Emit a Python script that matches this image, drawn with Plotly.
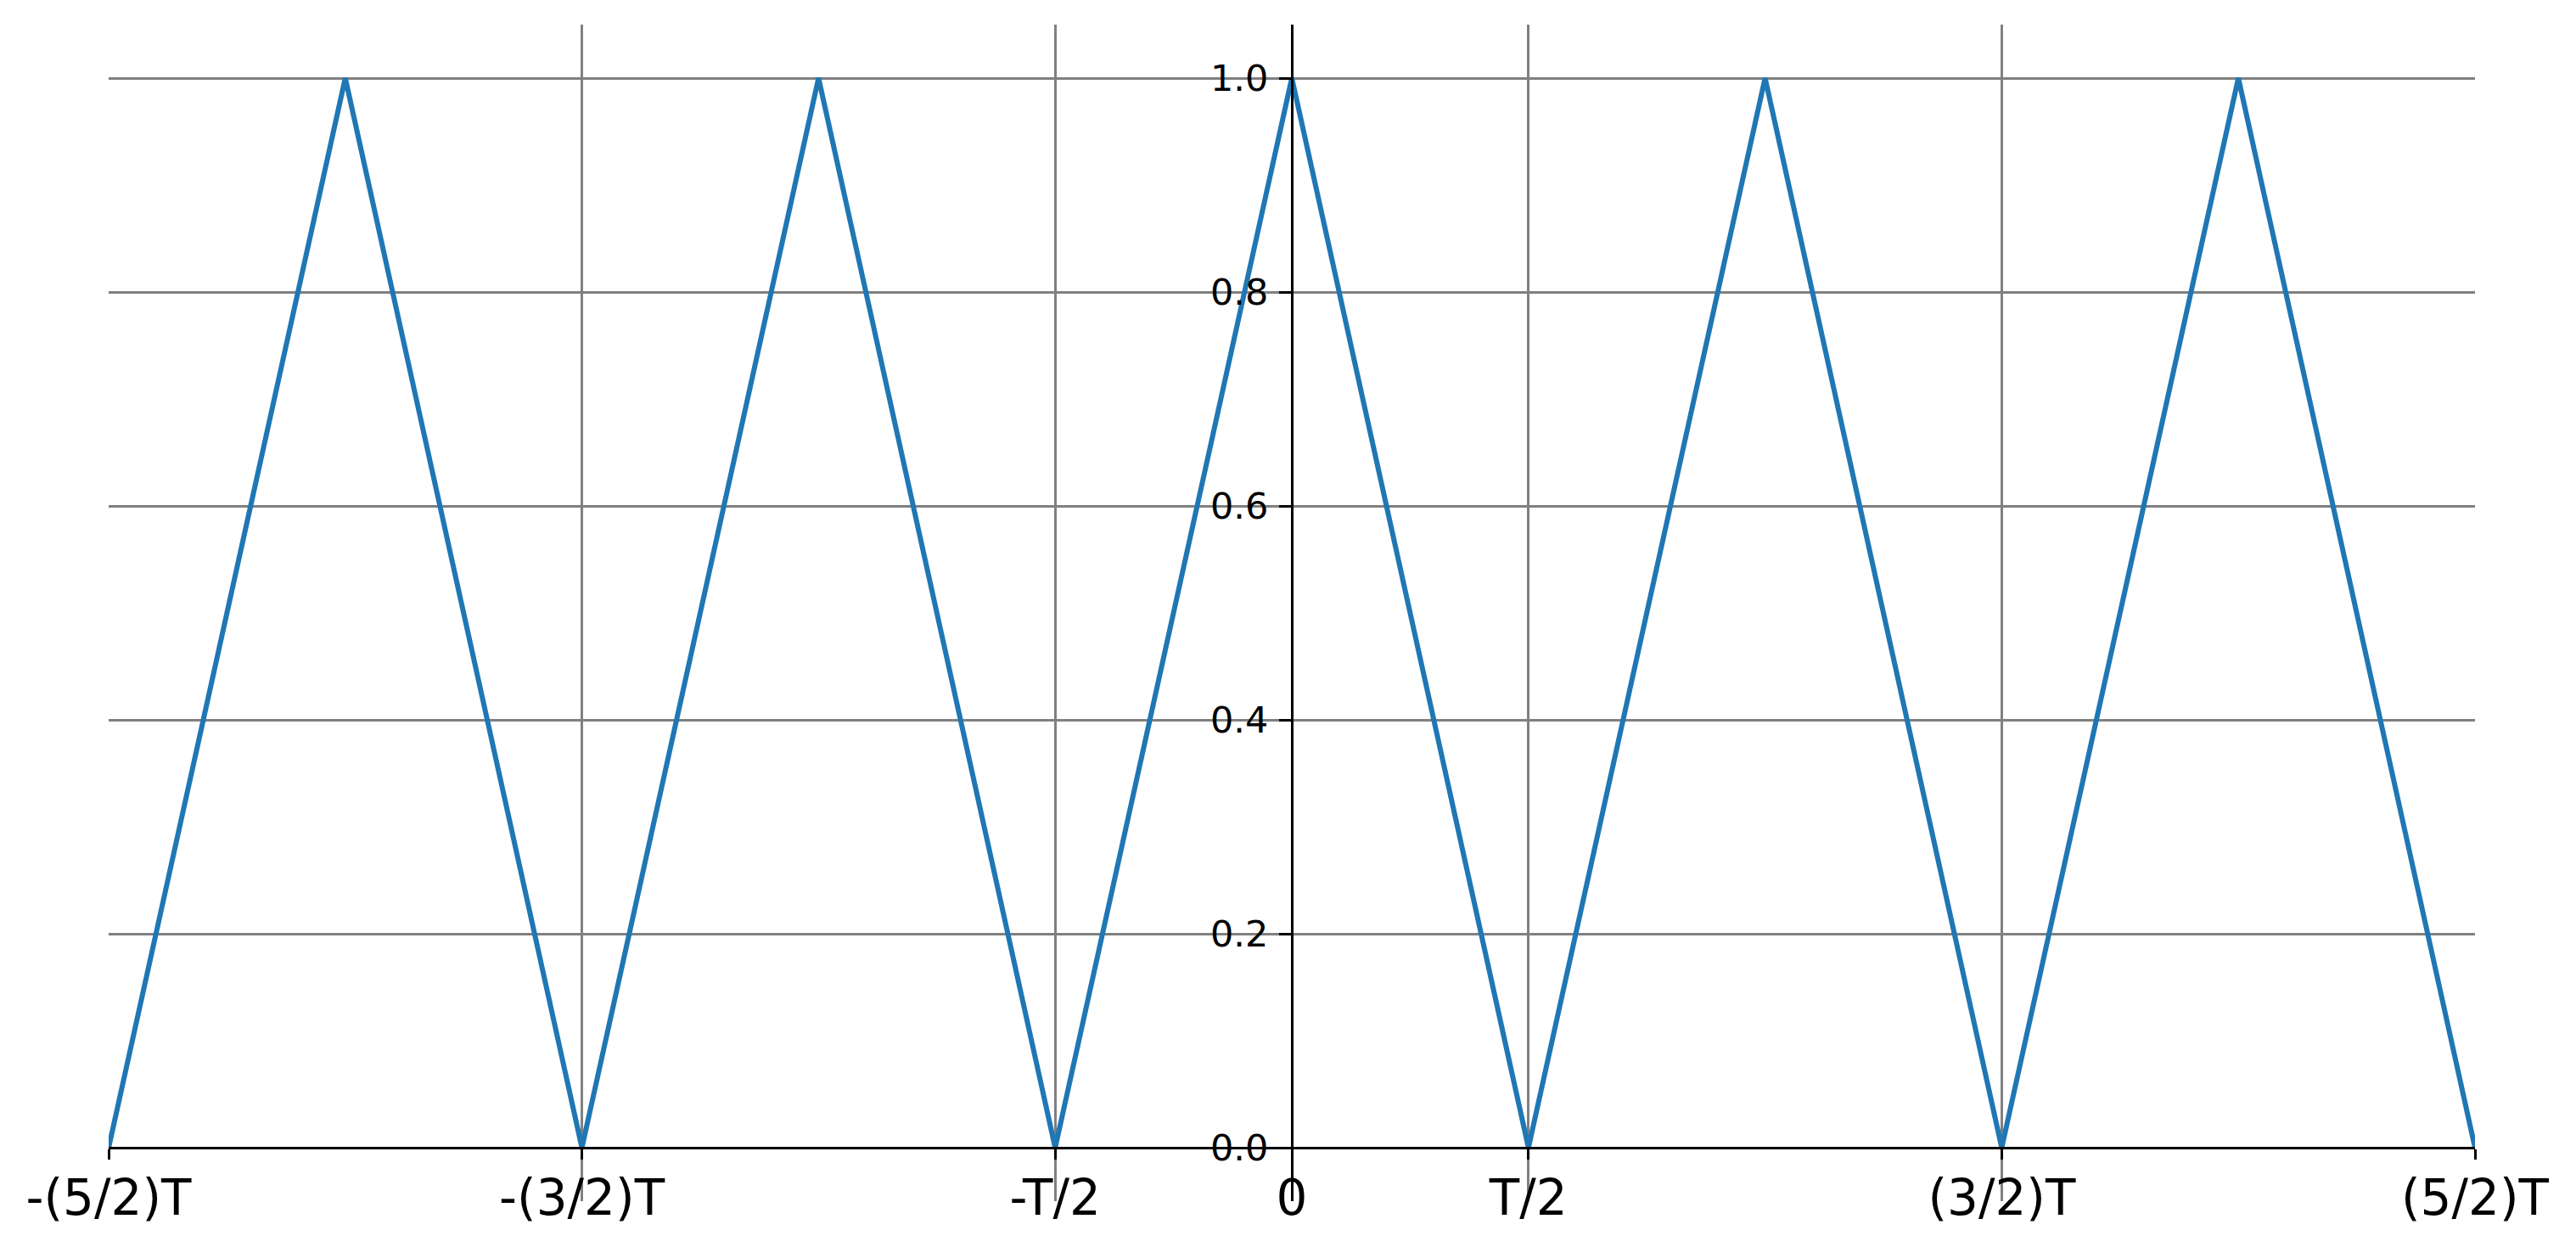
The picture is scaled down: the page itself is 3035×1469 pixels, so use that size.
import plotly.graph_objects as go

# Triangle wave (period T = 1)
x_vals = [-2.5, -2.0, -1.5, -1.0, -0.5, 0.0, 0.5, 1.0, 1.5, 2.0, 2.5]
y_vals = [0, 1, 0, 1, 0, 1, 0, 1, 0, 1, 0]

x_tick_vals = [-2.5, -1.5, -0.5, 0, 0.5, 1.5, 2.5]
x_tick_text = ["-(5/2)T", "-(3/2)T", "-T/2", "0", "T/2", "(3/2)T", "(5/2)T"]
y_tick_vals = [0.0, 0.2, 0.4, 0.6, 0.8, 1.0]
y_tick_text = ["0.0", "0.2", "0.4", "0.6", "0.8", "1.0"]

x_range = [-2.5, 2.5]
y_range = [-0.05, 1.05]

fig = go.Figure()
fig.add_trace(go.Scatter(
    x=x_vals, y=y_vals, mode="lines",
    line=dict(color="#1f77b4", width=6),
    showlegend=False, hoverinfo="skip",
))

# position of the zero lines as fractions of the domains
x_axis_pos = (0 - y_range[0]) / (y_range[1] - y_range[0])
y_axis_pos = (0 - x_range[0]) / (x_range[1] - x_range[0])

fig.update_layout(
    width=3019, height=1453,
    margin=dict(l=120, r=111, t=21, b=46),
    plot_bgcolor="white", paper_bgcolor="white",
    font=dict(family="DejaVu Sans", color="black"),
    xaxis=dict(
        range=x_range, domain=[0, 1],
        anchor="free", position=x_axis_pos,
        tickmode="array", tickvals=x_tick_vals, ticktext=x_tick_text,
        tickfont=dict(size=58, family="DejaVu Sans", color="black"),
        ticks="outside", ticklen=12, tickwidth=3, tickcolor="black",
        ticklabelstandoff=-5,
        showline=True, linecolor="black", linewidth=3,
        showgrid=True, gridcolor="#808080", gridwidth=2.7,
        zeroline=False,
    ),
    yaxis=dict(
        range=y_range, domain=[0, 1],
        anchor="free", position=y_axis_pos,
        tickmode="array", tickvals=y_tick_vals, ticktext=y_tick_text,
        tickfont=dict(size=43, family="DejaVu Sans", color="black"),
        ticks="outside", ticklen=14, tickwidth=3, tickcolor="black",
        ticklabelstandoff=4,
        showline=True, linecolor="black", linewidth=3,
        showgrid=True, gridcolor="#808080", gridwidth=2.7,
        zeroline=False,
    ),
)

fig.write_html("out.html")
